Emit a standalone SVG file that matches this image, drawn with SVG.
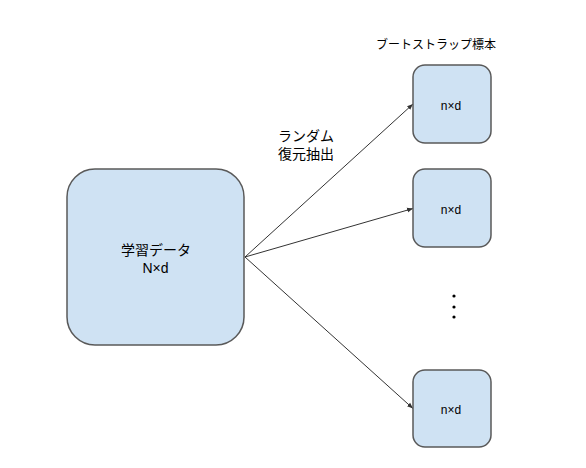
<svg xmlns="http://www.w3.org/2000/svg" width="586" height="468" viewBox="0 0 586 468">
<style>
.box{fill:#cfe2f3;stroke:#595959;stroke-width:1.5}
.t{font-family:"Liberation Sans","Noto Sans CJK JP",sans-serif;fill:#000;text-anchor:middle}
.edge{stroke:#333;stroke-width:1;fill:none;marker-end:url(#ah)}
</style>
<defs>
<marker id="ah" viewBox="0 0 10 10" refX="10" refY="5" markerWidth="6" markerHeight="6" orient="auto" markerUnits="userSpaceOnUse">
<path d="M0,1 L10,5 L0,9 z" fill="#333"/>
</marker>
</defs>
<rect width="586" height="468" fill="#fff"/>
<g id="connectors">
<line class="edge" x1="245" y1="257" x2="413" y2="104"/>
<line class="edge" x1="245" y1="257" x2="413" y2="208.5"/>
<line class="edge" x1="245" y1="257" x2="413" y2="408.5"/>
</g>
<g id="train">
<rect class="box" x="67" y="169" width="177" height="176" rx="28"/>
<text class="t" x="156" y="255" font-size="14">学習データ</text>
<text class="t" x="155.5" y="273" font-size="14">N×d</text>
</g>
<g id="s1">
<rect class="box" x="413" y="65" width="78" height="78" rx="12"/>
<text class="t" x="451" y="110" font-size="12">n×d</text>
</g>
<g id="s2">
<rect class="box" x="413" y="169" width="78" height="78" rx="12"/>
<text class="t" x="451" y="214" font-size="12">n×d</text>
</g>
<g id="s4">
<rect class="box" x="413" y="370" width="78" height="77" rx="12"/>
<text class="t" x="451" y="414" font-size="12">n×d</text>
</g>
<g id="dots" fill="#000">
<circle cx="454" cy="296" r="1.6"/>
<circle cx="454" cy="307" r="1.6"/>
<circle cx="454" cy="317" r="1.6"/>
</g>
<g id="labels">
<text class="t" x="436" y="49" font-size="12">ブートストラップ標本</text>
<text class="t" x="306" y="141" font-size="14">ランダム</text>
<text class="t" x="306" y="159" font-size="14">復元抽出</text>
</g>
</svg>
